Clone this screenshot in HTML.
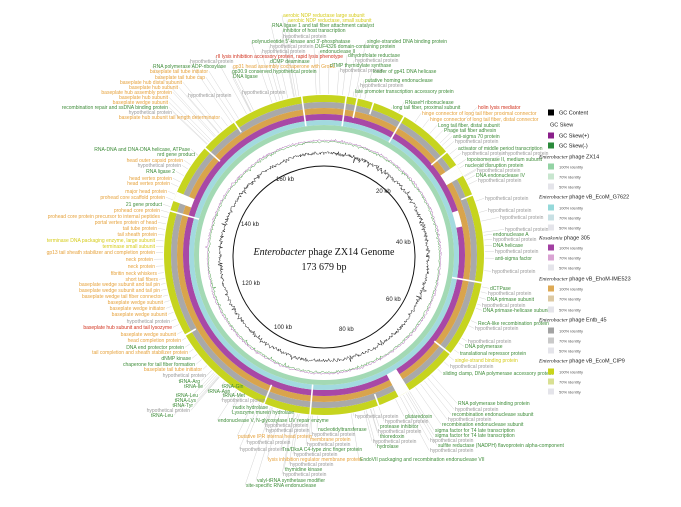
<!DOCTYPE html>
<html><head><meta charset="utf-8"><style>
html,body{margin:0;padding:0;background:#fff;}
svg{display:block;}
text{font-family:"Liberation Sans",sans-serif;}
</style></head><body>
<svg id="s" width="681" height="507" viewBox="0 0 681 507" xmlns="http://www.w3.org/2000/svg">
<g id="lines" stroke="#d4d4d4" stroke-width="0.5" fill="none"></g>
<g id="rings" fill="none"></g>
<g id="gaps" stroke="#fff" stroke-width="1.6"></g>
<path id="skewp" fill="none" stroke="#b070b8" stroke-width="0.5"/>
<path id="skewg" fill="none" stroke="#50a050" stroke-width="0.5"/>
<path id="gcc" fill="none" stroke="#222" stroke-width="0.5"/>
<circle cx="324" cy="257" r="91" fill="none" stroke="#111" stroke-width="1"/>
<g font-family="Liberation Serif,serif" font-size="6" fill="#222">
<text x="376" y="193">20 kb</text><text x="396" y="244">40 kb</text><text x="386" y="301">60 kb</text>
<text x="339" y="331">80 kb</text><text x="274" y="329">100 kb</text><text x="242" y="285">120 kb</text>
<text x="241" y="226">140 kb</text><text x="276" y="181">160 kb</text>
</g>
<text x="324" y="255" text-anchor="middle" font-size="10" style="font-family:'Liberation Serif',serif" fill="#111"><tspan font-style="italic">Enterobacter</tspan> phage ZX14 Genome</text>
<text x="324" y="270" text-anchor="middle" font-size="10" style="font-family:'Liberation Serif',serif" fill="#111">173 679 bp</text>
<g id="labels" font-size="5"></g>
<g id="legend" font-size="5.5"></g>
</svg>
<script>
var NS="http://www.w3.org/2000/svg",CX=324,CY=255;
function el(p,t,a,txt){var e=document.createElementNS(NS,t);for(var k in a)e.setAttribute(k,a[k]);if(txt!=null)e.textContent=txt;document.getElementById(p).appendChild(e);return e;}
var rings=[[156.5,7,"#c6d41e"],[150,6,"#a9a9a9"],[144,6,"#d9a44c"],[138,6,"#a848a6"],[132.5,5,"#a2dadf"],[127.5,5,"#a3d9b4"]];
rings.forEach(function(r){el("rings","circle",{cx:CX,cy:CY,r:r[0],stroke:r[2],"stroke-width":r[1]});});
var gaps=[-82,-78,-72,-60,-40,-22,10,38,70,95,112,150,196,222,236,262];
gaps.forEach(function(g,i){var a=g*Math.PI/180,r1=(i%3==0?130:(i%3==1?140:148)),r2=161;
el("gaps","line",{x1:CX+r1*Math.cos(a),y1:CY+r1*Math.sin(a),x2:CX+r2*Math.cos(a),y2:CY+r2*Math.sin(a)});});
[[-18,-12,135,141],[58,62,135,160],[-34,-30,141,160],[200,203,141,160]].forEach(function(b){
 for(var d=b[0];d<=b[1];d+=0.5){var a=d*Math.PI/180;el("gaps","line",{x1:CX+b[2]*Math.cos(a),y1:CY+b[2]*Math.sin(a),x2:CX+b[3]*Math.cos(a),y2:CY+b[3]*Math.sin(a)});}});
var seed=7;function rnd(){seed=(seed*16807)%2147483647;return seed/2147483647;}
function noisy(r,amp,n,sign){var d="";for(var i=0;i<=n;i++){var a=i/n*2*Math.PI-Math.PI/2,v=(rnd()+rnd()+rnd()-1.5)/1.5*amp;if(rnd()<0.03)v*=2.2;if(sign==1)v=Math.abs(v);if(sign==-1)v=-Math.abs(v);var rr=r+v;d+=(i?"L":"M")+(CX+rr*Math.cos(a)).toFixed(1)+" "+(CY+2+rr*Math.sin(a)).toFixed(1);}return d;}
document.getElementById("gcc").setAttribute("d",noisy(104,3,1100,0));
document.getElementById("skewp").setAttribute("d",noisy(116,2.5,900,1));
document.getElementById("skewg").setAttribute("d",noisy(116,2.5,900,-1));
var G="#3f8d3a",O="#e6a23c",H="#9a9a9a",R="#d2331f",Y="#d6cc1a";
var L=[
[283,17,"aerobic NDP reductase large subunit",Y,0],[288,22,"aerobic NDP reductase, small subunit",Y,0],
[272,27,"RNA ligase 1 and tail fiber attachment catalyst",G,0],[283,32,"inhibitor of host transcription",G,0],[283,38,"hypothetical protein",H,0],
[252,43,"polynucleotide 5'-kinase and 3'-phosphatase",G,0],[270,48,"hypothetical protein",H,0],[262,53,"hypothetical protein",H,0],
[216,58,"rII lysis inhibition accessory protein, rapid lysis phenotype",R,0],[270,63,"dCMP deaminase",G,0],
[190,63,"hypothetical protein",H,0],[153,68,"RNA polymerase ADP-ribosylase",G,0],[233,68,"gp31 head assembly cochaperone with GroEL",O,0],
[232,73,"gp30.9 conserved hypothetical protein",G,0],[233,78,"DNA ligase",G,0],
[208,73,"baseplate tail tube initiator",O,1],[205,79,"baseplate tail tube cap",O,1],[182,84,"baseplate hub distal subunit",O,1],
[178,89,"baseplate hub subunit",O,1],[172,94,"baseplate hub assembly protein",O,1],[168,99,"baseplate hub subunit",O,1],
[168,104,"baseplate wedge subunit",O,1],[168,109,"recombination repair and ssDNA binding protein",G,1],[172,114,"hypothetical protein",H,1],
[220,119,"baseplate hub subunit tail length determinator",O,1],[188,97,"hypothetical protein",H,0],[242,94,"hypothetical protein",H,0],
[190,151,"RNA-DNA and DNA-DNA helicase, ATPase",G,1],[195,156,"nrd gene product",G,1],[183,162,"head outer capsid protein",O,1],
[181,167,"hypothetical protein",H,1],[175,173,"RNA ligase 2",G,1],[172,180,"head vertex protein",O,1],[170,185,"head vertex protein",O,1],
[167,193,"major head protein",O,1],[165,199,"prohead core scaffold protein",O,1],[162,206,"21 gene product",G,1],
[160,212,"prohead core protein",O,1],[160,218,"prohead core protein precursor to internal peptides",O,1],[157,224,"portal vertex protein of head",O,1],
[157,230,"tail tube protein",O,1],[157,236,"tail sheath protein",O,1],[155,242,"terminase DNA packaging enzyme, large subunit",Y,1],
[155,248,"terminase small subunit",Y,1],[155,254,"gp13 tail sheath stabilizer and completion protein",O,1],[153,261,"neck protein",O,1],
[155,268,"neck protein",O,1],[157,275,"fibritin neck whiskers",O,1],[158,281,"short tail fibers",O,1],[160,286,"baseplate wedge subunit and tail pin",O,1],
[160,292,"baseplate wedge subunit and tail pin",O,1],[162,298,"baseplate wedge tail fiber connector",O,1],[163,304,"baseplate wedge subunit",O,1],
[165,310,"baseplate wedge initiator",O,1],[167,316,"baseplate wedge subunit",O,1],[170,323,"hypothetical protein",H,1],
[172,329,"baseplate hub subunit and tail lysozyme",R,1],[176,336,"baseplate wedge subunit",O,1],[181,342,"head completion protein",O,1],
[184,349,"DNA end protector protein",G,1],[188,354,"tail completion and sheath stabilizer protein",O,1],[191,360,"dNMP kinase",G,1],
[195,366,"chaperone for tail fiber formation",G,1],[202,371,"baseplate tail tube initiator",O,1],[206,377,"hypothetical protein",H,1],
[200,383,"tRNA-Arg",G,1],[203,388,"tRNA-Ile",G,1],[222,388,"tRNA-Gln",G,0],[208,393,"tRNA-Asn",G,0],[198,397,"tRNA-Leu",G,1],
[223,397,"tRNA-Met",G,0],[196,402,"tRNA-Lys",G,1],[193,407,"tRNA-Tyr",G,1],[190,412,"hypothetical protein",H,1],[173,417,"tRNA-Leu",G,1],
[222,402,"hypothetical protein",H,0],[233,409,"nudix hydrolase",G,0],[232,414,"Lysozyme murein hydrolase",G,0],
[218,422,"endonuclease V, N-glycosylase UV repair enzyme",G,0],[265,427,"hypothetical protein",H,0],[266,432,"hypothetical protein",H,0],
[318,431,"nucleotidyltransferase",G,0],[312,436,"hypothetical protein",H,0],[238,438,"putative IPR internal head protein",O,0],[310,441,"membrane protein",O,0],
[247,444,"hypothetical protein",H,0],[307,446,"hypothetical protein",H,0],[240,451,"hypothetical protein",H,0],[282,451,"Tra/DksA C4-type zinc finger protein",G,0],
[294,456,"hypothetical protein",H,0],[268,461,"lysis inhibition regulator membrane protein",O,0],[360,461,"EndoVII packaging and recombination endonuclease VII",G,0],
[290,466,"hypothetical protein",H,0],[285,471,"thymidine kinase",G,0],[283,476,"hypothetical protein",H,0],[257,482,"valyl-tRNA synthetase modifier",G,0],
[246,487,"site-specific RNA endonuclease",G,0],
[355,418,"hypothetical protein",H,0],[405,418,"glutaredoxin",G,0],[385,423,"hypothetical protein",H,0],[380,428,"protease inhibitor",G,0],
[378,433,"hypothetical protein",H,0],[380,438,"thioredoxin",G,0],[373,443,"hypothetical protein",H,0],[377,448,"hydrolase",G,0],
[458,405,"RNA polymerase binding protein",G,0],[455,411,"hypothetical protein",H,0],[452,416,"recombination endonuclease subunit",G,0],
[448,421,"hypothetical protein",H,0],[442,426,"recombination endonuclease subunit",G,0],[435,432,"sigma factor for T4 late transcription",G,0],
[435,437,"sigma factor for T4 late transcription",G,0],[430,442,"hypothetical protein",H,0],[438,447,"sulfite reductase (NADPH) flavoprotein alpha-component",G,0],
[430,452,"hypothetical protein",H,0],
[367,43,"single-stranded DNA binding protein",G,0],[315,48,"DUF4326 domain-containing protein",G,0],[320,53,"endonuclease II",G,0],
[348,57,"dihydrofolate reductase",G,0],[355,62,"hypothetical protein",H,0],[330,67,"dTMP thymidylate synthase",G,0],[340,72,"hypothetical protein",H,0],
[373,73,"loader of gp41 DNA helicase",G,0],[365,82,"putative homing endonuclease",G,0],[360,87,"hypothetical protein",H,0],
[355,93,"late promoter transcription accessory protein",G,0],[405,104,"RNaseH ribonuclease",G,0],[393,109,"long tail fiber, proximal subunit",G,0],
[478,109,"holin lysis mediator",R,0],[422,115,"hinge connector of long tail fiber proximal connector",O,0],[430,121,"hinge connector of long tail fiber, distal connector",O,0],
[438,127,"Long tail fiber, distal subunit",G,0],[444,132,"Phage tail fiber adhesin",G,0],[453,138,"anti-sigma 70 protein",G,0],[455,143,"hypothetical protein",H,0],
[458,150,"activator of middle period transcription",G,0],[462,155,"hypothetical protein",H,0],[505,155,"hypothetical protein",H,0],
[467,161,"topoisomerase II, medium subunit",G,0],[465,167,"nucleoid disruption protein",G,0],[477,172,"hypothetical protein",H,0],
[476,177,"DNA endonuclease IV",G,0],[478,182,"hypothetical protein",H,0],[485,200,"hypothetical protein",H,0],[488,212,"hypothetical protein",H,0],
[500,219,"hypothetical protein",H,0],[505,231,"hypothetical protein",H,0],[493,236,"endonuclease A",G,0],[493,241,"hypothetical protein",H,0],
[493,247,"DNA helicase",G,0],[495,253,"hypothetical protein",H,0],[495,260,"anti-sigma factor",G,0],[492,273,"hypothetical protein",H,0],
[490,290,"dCTPase",G,0],[488,295,"hypothetical protein",H,0],[487,301,"DNA primase subunit",G,0],[482,307,"hypothetical protein",H,0],
[483,312,"DNA primase-helicase subunit",G,0],[478,325,"RecA-like recombination protein",G,0],[475,330,"hypothetical protein",H,0],
[468,343,"hypothetical protein",H,0],[465,348,"DNA polymerase",G,0],[460,355,"translational repressor protein",G,0],
[455,362,"single-strand binding protein",Y,0],[450,368,"hypothetical protein",H,0],[443,375,"sliding clamp, DNA polymerase accessory protein",G,0]
];
L.forEach(function(l){
 el("labels","text",{x:l[0],y:l[1],fill:l[3],"text-anchor":l[4]?"end":"start"},l[2]);
 var ax=l[0]+(l[4]?1:-1),ay=l[1]-1.7,a=Math.atan2(ay-CY,ax-CX),rr=161;
 el("lines","line",{x1:CX+rr*Math.cos(a),y1:CY+rr*Math.sin(a),x2:ax,y2:ay});
});
var lg=[[113,"sq","#000","GC Content"],[125,"t","","GC Skew"],[136,"sq","#8a1f8a","GC Skew(+)"],[146,"sq","#2a8a3a","GC Skew(-)"],
[157,"h","","phage ZX14"],[167,"sq","#93d3a4","100% identity"],[177,"sq","#c8e6cf","70% identity"],[187,"sq","#e4e4ea","50% identity"],
[197,"h","","phage vB_EcoM_G7622"],[208,"sq","#95d9da","100% identity"],[218,"sq","#c8e0e4","70% identity"],[228,"sq","#e4e4ea","50% identity"],
[238,"k","","phage 305"],[248,"sq","#a23fa2","100% identity"],[258,"sq","#d9a3d3","70% identity"],[268,"sq","#e4e4ea","50% identity"],
[279,"h","","phage vB_EhoM-IME523"],[289,"sq","#deaa55","100% identity"],[299,"sq","#dcc9a3","70% identity"],[310,"sq","#e4e4ea","50% identity"],
[320,"h","","phage Entb_45"],[331,"sq","#a3a3a3","100% identity"],[341,"sq","#c9c9c9","70% identity"],[351,"sq","#e4e4ea","50% identity"],
[361,"h","","phage vB_EcoM_CIP9"],[372,"sq","#c9d41a","100% identity"],[382,"sq","#d9e093","70% identity"],[392,"sq","#e4e4ea","50% identity"]];
lg.forEach(function(g){
 if(g[1]=="sq"){el("legend","rect",{x:548,y:g[0]-3.5,width:6,height:6,fill:g[2]});
  el("legend","text",{x:559,y:g[0]+1.5,fill:(g[3].indexOf("GC")==0?"#111":"#555"),"font-size":(g[3].indexOf("GC")==0?5.5:4)},g[3]);}
 else if(g[1]=="t"){el("legend","text",{x:550,y:g[0]+1.5,fill:"#222"},g[3]);}
 else{var t=el("legend","text",{x:539,y:g[0]+1.5,fill:"#222"});
  var s=document.createElementNS(NS,"tspan");s.setAttribute("font-style","italic");s.setAttribute("style","font-family:'Liberation Serif',serif");s.textContent=(g[1]=="k"?"Kosakonia ":"Enterobacter ");t.appendChild(s);
  var s2=document.createElementNS(NS,"tspan");s2.textContent=g[3];t.appendChild(s2);}
});
</script>
</body></html>
